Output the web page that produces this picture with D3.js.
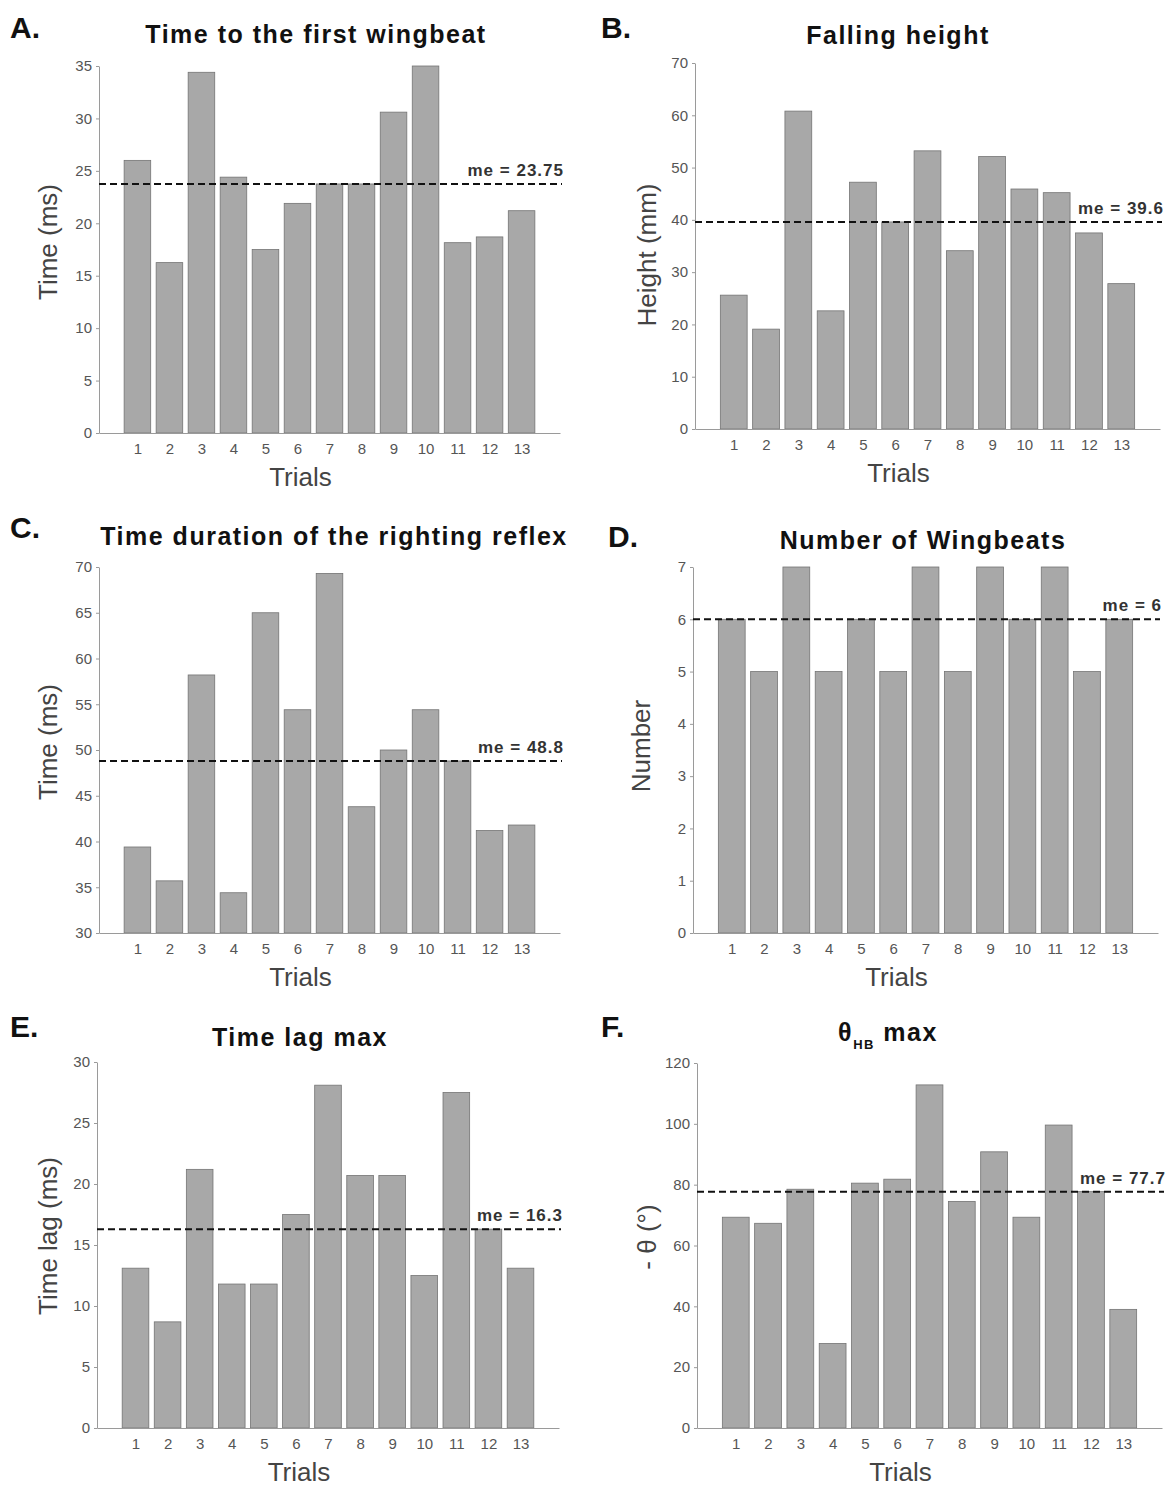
<!DOCTYPE html>
<html>
<head>
<meta charset="utf-8">
<script src="https://cdn.jsdelivr.net/npm/d3@7"></script>
<style>
  body { margin: 0; background: #fff; }
  svg text { font-family: "Liberation Sans", Arial, sans-serif; }
</style>
</head>
<body>
<div id="chart"></div>
<script>
// trials and values
var trials = [1, 2, 3, 4, 5, 6, 7, 8, 9, 10, 11, 12, 13];

var wingbeatTime = [26, 16.25, 34.4, 24.4, 17.5, 21.9, 23.75, 23.75, 30.6, 35, 18.15, 18.7, 21.2];
var fallingHeight = [25.6, 19.1, 60.8, 22.6, 47.2, 39.6, 53.2, 34.1, 52.1, 45.9, 45.2, 37.5, 27.8];
var rightingTime = [39.4, 35.7, 58.2, 34.4, 65, 54.4, 69.3, 43.8, 50, 54.4, 48.8, 41.2, 41.8];
var wingbeatCount = [6, 5, 7, 5, 6, 5, 7, 5, 7, 6, 7, 5, 6];
var timeLag = [13.1, 8.7, 21.2, 11.8, 11.8, 17.5, 28.1, 20.7, 20.7, 12.5, 27.5, 16.3, 13.1];
var thetaMax = [69.3, 67.3, 78.5, 27.8, 80.5, 81.8, 112.8, 74.5, 90.8, 69.3, 99.6, 77.7, 39];

var medians = [23.75, 39.6, 48.8, 6, 16.3, 77.7];
var medianLabels = ["me = 23.75", "me = 39.6", "me = 48.8", "me = 6", "me = 16.3", "me = 77.7"];

var ticksA = [0, 5, 10, 15, 20, 25, 30, 35];
var ticksB = [0, 10, 20, 30, 40, 50, 60, 70];
var ticksC = [30, 35, 40, 45, 50, 55, 60, 65, 70];
var ticksD = [0, 1, 2, 3, 4, 5, 6, 7];
var ticksE = [0, 5, 10, 15, 20, 25, 30];
var ticksF = [0, 20, 40, 60, 80, 100, 120];

var svg = d3
  .select("#chart")
  .append("svg")
  .attr("width", 1171)
  .attr("height", 1486);

function drawPanel(p) {
  var x = d3.scaleLinear().domain([-0.2, 14.2]).range([p.left, p.right]);
  var y = d3.scaleLinear().domain(p.ydomain).range([p.bottom, p.top]);
  var g = svg.append("g");
  var bw = (x(1) - x(0)) * 0.83;

  g.selectAll("rect")
    .data(p.values)
    .enter()
    .append("rect")
    .attr("x", (d, i) => x(trials[i]) - bw / 2)
    .attr("y", (d) => y(d))
    .attr("width", bw)
    .attr("height", (d) => y(p.ydomain[0]) - y(d))
    .attr("fill", "#a8a8a8")
    .attr("stroke", "#747474")
    .attr("stroke-width", 0.8);

  // y axis
  var ya = g
    .append("g")
    .attr("transform", "translate(" + p.left + ",0)")
    .call(
      d3.axisLeft(y).tickValues(p.ticks).tickFormat(d3.format("d"))
        .tickSize(3).tickPadding(4).tickSizeOuter(0)
    );
  // x axis
  var xa = g
    .append("g")
    .attr("transform", "translate(0," + p.bottom + ")")
    .call(d3.axisBottom(x).tickValues(trials).tickSize(0).tickPadding(10).tickSizeOuter(0));
  [ya, xa].forEach(function (a) {
    a.select(".domain").attr("stroke", "#9a9a9a");
    a.selectAll(".tick line").attr("stroke", "#9a9a9a");
    a.selectAll(".tick text")
      .attr("fill", "#555")
      .style("font-size", "15px");
  });

  // median line
  g.append("line")
    .attr("x1", p.left)
    .attr("x2", p.right + 2)
    .attr("y1", y(p.median))
    .attr("y2", y(p.median))
    .attr("stroke", "#111")
    .attr("stroke-width", 2)
    .attr("stroke-dasharray", "7,4");
  g.append("text")
    .attr("x", p.right + 4)
    .attr("y", y(p.median) - 8)
    .attr("text-anchor", "end")
    .attr("fill", "#333")
    .style("font-size", "17px")
    .style("font-weight", "bold")
    .style("letter-spacing", "1px")
    .text(p.medianLabel);

  // panel letter
  g.append("text")
    .attr("x", p.letterX)
    .attr("y", p.letterY)
    .style("font-size", "30px")
    .style("font-weight", "bold")
    .attr("fill", "#111")
    .text(p.letter);

  // title
  var t = g
    .append("text")
    .attr("x", p.titleX)
    .attr("y", p.titleY)
    .attr("text-anchor", "middle")
    .style("font-size", "25px")
    .style("font-weight", "bold")
    .style("letter-spacing", "1.5px")
    .attr("fill", "#111");
  if (p.title == "theta") {
    t.append("tspan").text("θ");
    t.append("tspan")
      .attr("dy", 8)
      .style("font-size", "13px")
      .text("HB");
    t.append("tspan").attr("dy", -8).text(" max");
  } else {
    t.text(p.title);
  }

  // axis labels
  g.append("text")
    .attr("x", (p.left + p.right) / 2 - 29)
    .attr("y", p.bottom + 53)
    .attr("text-anchor", "middle")
    .style("font-size", "26px")
    .attr("fill", "#444")
    .text("Trials");
  g.append("text")
    .attr("transform", "translate(" + p.ylabelX + "," + p.ylabelY + ") rotate(-90)")
    .attr("text-anchor", "middle")
    .style("font-size", "26px")
    .attr("fill", "#444")
    .text(p.ylabel);
}

drawPanel({
  values: wingbeatTime, median: medians[0], medianLabel: medianLabels[0],
  ydomain: [0, 35], ticks: ticksA,
  left: 99, right: 560, top: 66, bottom: 433,
  letter: "A.", letterX: 10, letterY: 38,
  title: "Time to the first wingbeat", titleX: 316, titleY: 43,
  ylabel: "Time (ms)", ylabelX: 57, ylabelY: 242
});
drawPanel({
  values: fallingHeight, median: medians[1], medianLabel: medianLabels[1],
  ydomain: [0, 70], ticks: ticksB,
  left: 695, right: 1160, top: 63, bottom: 429,
  letter: "B.", letterX: 601, letterY: 38,
  title: "Falling height", titleX: 898, titleY: 44,
  ylabel: "Height (mm)", ylabelX: 656, ylabelY: 255
});
drawPanel({
  values: rightingTime, median: medians[2], medianLabel: medianLabels[2],
  ydomain: [30, 70], ticks: ticksC,
  left: 99, right: 560, top: 567, bottom: 933,
  letter: "C.", letterX: 10, letterY: 538,
  title: "Time duration of the righting reflex", titleX: 334, titleY: 545,
  ylabel: "Time (ms)", ylabelX: 57, ylabelY: 742
});
drawPanel({
  values: wingbeatCount, median: medians[3], medianLabel: medianLabels[3],
  ydomain: [0, 7], ticks: ticksD,
  left: 693, right: 1158, top: 567, bottom: 933,
  letter: "D.", letterX: 608, letterY: 547,
  title: "Number of Wingbeats", titleX: 923, titleY: 549,
  ylabel: "Number", ylabelX: 650, ylabelY: 746
});
drawPanel({
  values: timeLag, median: medians[4], medianLabel: medianLabels[4],
  ydomain: [0, 30], ticks: ticksE,
  left: 97, right: 559, top: 1062, bottom: 1428,
  letter: "E.", letterX: 10, letterY: 1037,
  title: "Time lag max", titleX: 300, titleY: 1046,
  ylabel: "Time lag (ms)", ylabelX: 57, ylabelY: 1236
});
drawPanel({
  values: thetaMax, median: medians[5], medianLabel: medianLabels[5],
  ydomain: [0, 120], ticks: ticksF,
  left: 697, right: 1162, top: 1063, bottom: 1428,
  letter: "F.", letterX: 601, letterY: 1037,
  title: "theta", titleX: 888, titleY: 1041,
  ylabel: "- θ (°)", ylabelX: 656, ylabelY: 1237
});
</script>
</body>
</html>
